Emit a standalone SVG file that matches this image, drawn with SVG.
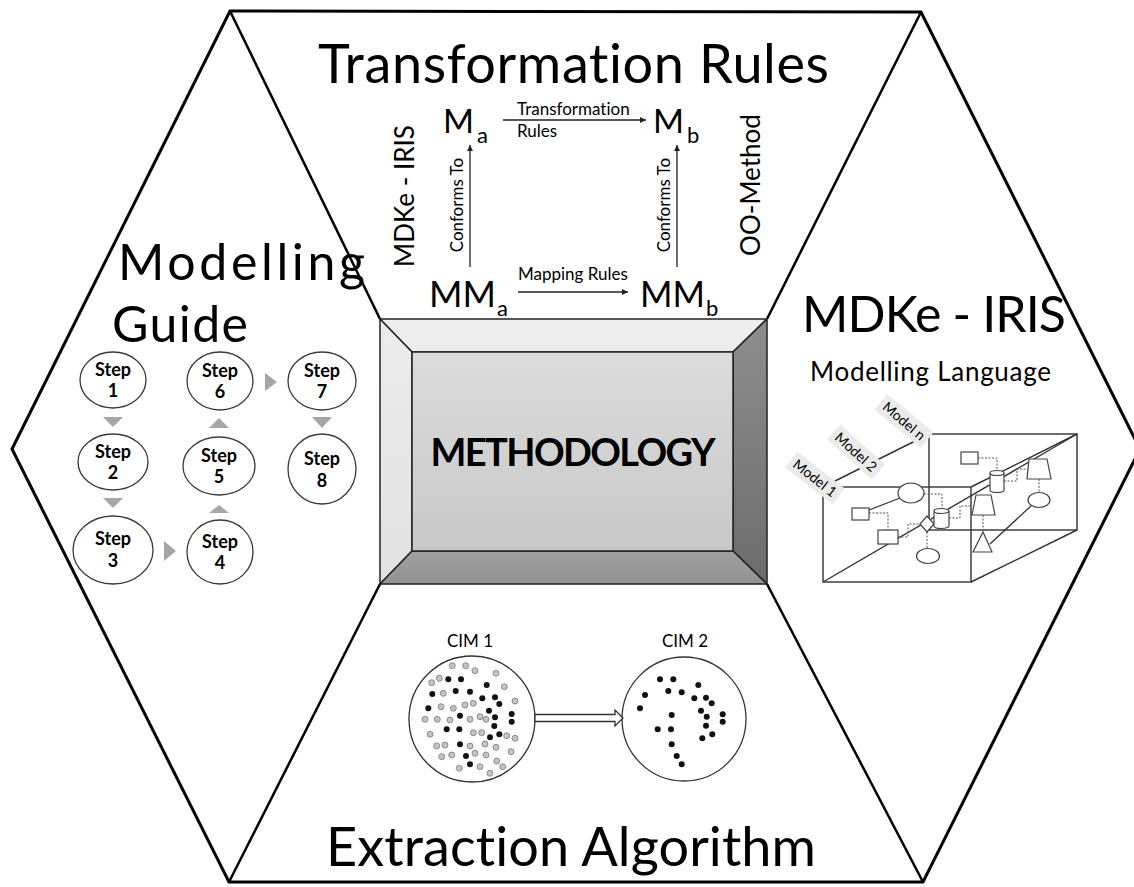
<svg xmlns="http://www.w3.org/2000/svg" width="1134" height="887" viewBox="0 0 1134 887">
<style>
  text { font-family: Lato, "Open Sans", "DejaVu Sans", sans-serif; fill: #000; font-variant-ligatures: none; font-feature-settings: "liga" 0, "clig" 0; }
  .frame { fill: none; stroke: #000; stroke-width: 3; stroke-linejoin: miter; }
  .sep { stroke: #000; stroke-width: 2.5; }
  .big { font-size: 54px; }
  .bevel { stroke: #222; stroke-width: 1.5; stroke-linejoin: round; }
  .step ellipse { fill: #fff; stroke: #3a3a3a; stroke-width: 1.3; }
  .step text { font-size: 18px; font-weight: bold; text-anchor: middle; }
  .tri { fill: #a6a6a6; }
  .arrow { stroke: #222; stroke-width: 1.3; fill: none; marker-end: url(#ah); }
  .lbl { font-size: 17px; }
  .box { fill: none; stroke: #333; stroke-width: 1.4; }
  .shape { fill: #fff; stroke: #444; stroke-width: 1.2; }
  .dash { fill: none; stroke: #555; stroke-width: 1; stroke-dasharray: 2 1.5; }
  .solid { fill: none; stroke: #333; stroke-width: 1.3; }
  .tag rect { fill: #ebebeb; }
  .tag text { font-size: 14px; text-anchor: middle; }
  .k { fill: #111; }
  .o { fill: #c4c4c4; stroke: #7a7a7a; stroke-width: 0.8; }
  .cim { fill: #fff; stroke: #333; stroke-width: 1.3; }
</style>
<defs>
  <marker id="ah" viewBox="0 0 10 10" refX="10" refY="5" markerUnits="userSpaceOnUse" markerWidth="7" markerHeight="6" orient="auto">
    <path d="M0,0 L10,5 L0,10 z" fill="#222"/>
  </marker>
  <linearGradient id="face" x1="0" y1="0" x2="0" y2="1">
    <stop offset="0" stop-color="#dcdcdc"/>
    <stop offset="1" stop-color="#c8c8c8"/>
  </linearGradient>
  <linearGradient id="rightBevel" x1="0" y1="0" x2="0" y2="1">
    <stop offset="0" stop-color="#8e8e8e"/>
    <stop offset="1" stop-color="#6c6c6c"/>
  </linearGradient>
  <linearGradient id="bottomBevel" x1="0" y1="0" x2="0" y2="1">
    <stop offset="0" stop-color="#a0a0a0"/>
    <stop offset="1" stop-color="#929292"/>
  </linearGradient>
  <linearGradient id="leftBevel" x1="0" y1="0" x2="0" y2="1">
    <stop offset="0" stop-color="#ececec"/>
    <stop offset="1" stop-color="#e2e2e2"/>
  </linearGradient>
</defs>

<rect width="1134" height="887" fill="#fff"/>

<!-- outer hexagon and the four separators running to the centre block -->
<g id="frame">
  <polygon class="frame" points="230,11 921,12 1140,449 923,882 229,882 12,449"/>
  <line class="sep" x1="230" y1="11" x2="380" y2="319"/>
  <line class="sep" x1="921" y1="12" x2="767" y2="319"/>
  <line class="sep" x1="229" y1="882" x2="380" y2="584"/>
  <line class="sep" x1="923" y1="882" x2="767" y2="584"/>
</g>

<!-- centre bevelled block -->
<g id="methodology">
  <polygon class="bevel" fill="#ededed" points="380,319 767,319 733,352 412,352"/>
  <polygon class="bevel" fill="url(#leftBevel)" points="380,319 412,352 412,551 380,584"/>
  <polygon class="bevel" fill="url(#rightBevel)" points="767,319 767,584 733,551 733,352"/>
  <polygon class="bevel" fill="url(#bottomBevel)" points="380,584 412,551 733,551 767,584"/>
  <rect class="bevel" x="412" y="352" width="321" height="199" fill="url(#face)"/>
  <text x="573" y="466" text-anchor="middle" font-size="38" font-weight="bold" textLength="285">METHODOLOGY</text>
</g>

<!-- top: transformation rules -->
<g id="transformation-rules">
  <text class="big" x="318" y="83" textLength="511">Transformation Rules</text>
  <text x="443" y="133" font-size="33" textLength="31" lengthAdjust="spacingAndGlyphs">M</text>
  <text x="477" y="143" font-size="22">a</text>
  <text x="653" y="133" font-size="33" textLength="31" lengthAdjust="spacingAndGlyphs">M</text>
  <text x="687" y="143" font-size="22">b</text>
  <text x="429" y="307" font-size="36" textLength="67" lengthAdjust="spacingAndGlyphs">MM</text>
  <text x="497" y="316" font-size="22">a</text>
  <text x="640" y="307" font-size="36" textLength="65" lengthAdjust="spacingAndGlyphs">MM</text>
  <text x="706" y="316" font-size="22">b</text>
  <text class="lbl" x="517" y="115">Transformation</text>
  <text class="lbl" x="517" y="137">Rules</text>
  <text class="lbl" x="518" y="280">Mapping Rules</text>
  <text class="lbl" x="463" y="205" text-anchor="middle" transform="rotate(-90 463 205)">Conforms To</text>
  <text class="lbl" x="670" y="205" text-anchor="middle" transform="rotate(-90 670 205)">Conforms To</text>
  <text x="414" y="196" font-size="26" text-anchor="middle" transform="rotate(-90 414 196)">MDKe - IRIS</text>
  <text x="760" y="185" font-size="26" text-anchor="middle" transform="rotate(-90 760 185)">OO-Method</text>
</g>
<g id="connectors">
  <line class="arrow" x1="503" y1="120" x2="646" y2="120"/>
  <line class="arrow" x1="518" y1="292" x2="628" y2="292"/>
  <line class="arrow" x1="470" y1="267" x2="470" y2="145"/>
  <line class="arrow" x1="677" y1="267" x2="677" y2="145"/>
</g>

<!-- left: modelling guide -->
<g id="modelling-guide">
  <text x="118" y="280" font-size="50" textLength="247">Modelling</text>
  <text x="112" y="342" font-size="50" textLength="136">Guide</text>
  <polygon class="tri" points="103,417 123,417 113,427"/>
  <polygon class="tri" points="103,498 123,498 113,508"/>
  <polygon class="tri" points="164,541 176,551 164,561"/>
  <polygon class="tri" points="209,513 229,513 219,505"/>
  <polygon class="tri" points="209,428 229,428 219,418"/>
  <polygon class="tri" points="265,373 277,382 265,391"/>
  <polygon class="tri" points="312,417 332,417 322,428"/>
</g>
<g id="step-1" class="step"><ellipse cx="113" cy="380" rx="33" ry="28"/><text x="113" y="376">Step</text><text x="113" y="397">1</text></g>
<g id="step-2" class="step"><ellipse cx="113" cy="462" rx="35" ry="28"/><text x="113" y="458">Step</text><text x="113" y="479">2</text></g>
<g id="step-3" class="step"><ellipse cx="113" cy="550" rx="40" ry="34"/><text x="113" y="545">Step</text><text x="113" y="567">3</text></g>
<g id="step-4" class="step"><ellipse cx="220" cy="552" rx="33" ry="32"/><text x="220" y="548">Step</text><text x="220" y="569">4</text></g>
<g id="step-5" class="step"><ellipse cx="219" cy="466" rx="36" ry="29"/><text x="219" y="462">Step</text><text x="219" y="483">5</text></g>
<g id="step-6" class="step"><ellipse cx="220" cy="381" rx="33" ry="29"/><text x="220" y="377">Step</text><text x="220" y="398">6</text></g>
<g id="step-7" class="step"><ellipse cx="322" cy="381" rx="34" ry="29"/><text x="322" y="377">Step</text><text x="322" y="398">7</text></g>
<g id="step-8" class="step"><ellipse cx="322" cy="469" rx="34" ry="35"/><text x="322" y="465">Step</text><text x="322" y="487">8</text></g>

<!-- right: modelling language -->
<g id="modelling-language">
  <text x="802" y="332" font-size="50" textLength="264">MDKe - IRIS</text>
  <text x="810" y="381" font-size="26" textLength="241">Modelling Language</text>

  <rect class="box" x="823" y="487" width="148" height="95"/>
  <rect class="box" x="929" y="434" width="148" height="96"/>
  <line class="box" x1="823" y1="487" x2="929" y2="434"/>
  <line class="box" x1="971" y1="487" x2="1077" y2="434"/>
  <line class="box" x1="971" y1="582" x2="1077" y2="530"/>
  <line class="box" x1="823" y1="582" x2="1077" y2="434"/>

  <path class="dash" d="M869,513 H888 V530"/>
  <path class="dash" d="M898,537 H908 V524 H920"/>
  <path class="dash" d="M924,494 H942 V508"/>
  <path class="dash" d="M949,518 H960 V506 H972"/>
  <path class="dash" d="M927,532 V549"/>
  <path class="dash" d="M978,458 H997 V470"/>
  <path class="dash" d="M1004,481 H1017 V469 H1028"/>
  <path class="dash" d="M983,515 V532"/>
  <path class="dash" d="M1039,479 V493"/>

  <path class="solid" d="M869,510 L900,498"/>
  <path class="solid" d="M990,544 L1032,505"/>

  <ellipse class="shape" cx="911" cy="493" rx="13" ry="10"/>
  <rect class="shape" x="852" y="508" width="17" height="12"/>
  <rect class="shape" x="878" y="530" width="20" height="14"/>
  <polygon class="shape" points="927,516 934,524 927,532 920,524"/>
  <path class="shape" d="M934,511 v15 a7.5,2.5 0 0 0 15,0 v-15 a7.5,2.5 0 0 0 -15,0 a7.5,2.5 0 0 0 15,0"/>
  <ellipse class="shape" cx="928" cy="556" rx="11.5" ry="7.5"/>
  <polygon class="shape" points="976,495 991,495 995,515 972,515"/>
  <polygon class="shape" points="983,532 992,552 973,552"/>
  <rect class="shape" x="961" y="452" width="17" height="12"/>
  <path class="shape" d="M990,473 v17 a7,2.5 0 0 0 14,0 v-17 a7,2.5 0 0 0 -14,0 a7,2.5 0 0 0 14,0"/>
  <polygon class="shape" points="1029,459 1047,459 1051,479 1027,479"/>
  <ellipse class="shape" cx="1039" cy="500" rx="11" ry="7.5"/>

  <g class="tag" transform="translate(815,478) rotate(38)"><rect x="-30" y="-10" width="60" height="20"/><text y="5">Model 1</text></g>
  <g class="tag" transform="translate(856,452) rotate(42)"><rect x="-30" y="-10" width="60" height="20"/><text y="5">Model 2</text></g>
  <g class="tag" transform="translate(904,421) rotate(40)"><rect x="-30" y="-10" width="60" height="20"/><text y="5">Model n</text></g>
</g>

<!-- bottom: extraction algorithm -->
<g id="extraction-algorithm">
  <text class="big" x="326" y="866" textLength="490">Extraction Algorithm</text>
  <text x="447" y="647" font-size="17">CIM 1</text>
  <text x="662" y="647" font-size="17">CIM 2</text>
  <circle class="cim" cx="472" cy="719" r="63"/>
  <circle class="cim" cx="684" cy="719" r="62"/>
  <polygon class="cim" points="535,714.5 615,714.5 615,710 623,718 615,726 615,721.5 535,721.5"/>
  <g id="cim1-dots">
    <circle class="o" cx="452.3" cy="665.7" r="3"/><circle class="o" cx="465.7" cy="665.7" r="3"/><circle class="o" cx="475" cy="670.7" r="3"/>
    <circle class="o" cx="496" cy="673.3" r="3"/><circle class="o" cx="431.7" cy="682.7" r="3"/><circle class="o" cx="439.3" cy="678.3" r="3"/>
    <circle class="o" cx="504.3" cy="686.7" r="3"/><circle class="o" cx="443.3" cy="693.3" r="3"/><circle class="o" cx="515" cy="701" r="3"/>
    <circle class="o" cx="473.3" cy="703.3" r="3"/><circle class="o" cx="465" cy="705" r="3"/><circle class="o" cx="441" cy="706.7" r="3"/>
    <circle class="o" cx="453.3" cy="708.3" r="3"/><circle class="o" cx="425" cy="719.3" r="3"/><circle class="o" cx="437.3" cy="719.3" r="3"/>
    <circle class="o" cx="450" cy="720" r="3"/><circle class="o" cx="470" cy="719.3" r="3"/><circle class="o" cx="480" cy="716.7" r="3"/>
    <circle class="o" cx="486" cy="719.3" r="3"/><circle class="o" cx="430" cy="734.3" r="3"/><circle class="o" cx="473.3" cy="732.7" r="3"/>
    <circle class="o" cx="481.7" cy="732.7" r="3"/><circle class="o" cx="506.7" cy="735.7" r="3"/><circle class="o" cx="515" cy="738.3" r="3"/>
    <circle class="o" cx="436.7" cy="746" r="3"/><circle class="o" cx="445" cy="745" r="3"/><circle class="o" cx="470" cy="746" r="3"/>
    <circle class="o" cx="485" cy="744" r="3"/><circle class="o" cx="496" cy="747.3" r="3"/><circle class="o" cx="441.7" cy="756.7" r="3"/>
    <circle class="o" cx="451.7" cy="755" r="3"/><circle class="o" cx="475" cy="753.3" r="3"/><circle class="o" cx="486" cy="755" r="3"/>
    <circle class="o" cx="511" cy="751.7" r="3"/><circle class="o" cx="459.3" cy="768.3" r="3"/><circle class="o" cx="480" cy="766.7" r="3"/>
    <circle class="o" cx="490" cy="773.3" r="3"/><circle class="o" cx="496.7" cy="761" r="3"/><circle class="o" cx="502.7" cy="766.7" r="3"/>
    <circle class="k" cx="448.3" cy="679.3" r="3"/><circle class="k" cx="461" cy="679.3" r="3"/><circle class="k" cx="486.7" cy="685" r="3"/>
    <circle class="k" cx="432.3" cy="694" r="3"/><circle class="k" cx="455.7" cy="691" r="3"/><circle class="k" cx="470" cy="691.7" r="3"/>
    <circle class="k" cx="482.3" cy="698.3" r="3"/><circle class="k" cx="495" cy="697.3" r="3"/><circle class="k" cx="499.3" cy="704" r="3"/>
    <circle class="k" cx="428.3" cy="708.3" r="3"/><circle class="k" cx="489" cy="710.7" r="3"/><circle class="k" cx="460" cy="715.7" r="3"/>
    <circle class="k" cx="495" cy="717.3" r="3"/><circle class="k" cx="511.7" cy="714" r="3"/><circle class="k" cx="511.7" cy="721.7" r="3"/>
    <circle class="k" cx="494.3" cy="726" r="3"/><circle class="k" cx="446.7" cy="729.3" r="3"/><circle class="k" cx="459.3" cy="729.3" r="3"/>
    <circle class="k" cx="490" cy="737.3" r="3"/><circle class="k" cx="499.3" cy="734.3" r="3"/><circle class="k" cx="460" cy="744.3" r="3"/>
    <circle class="k" cx="466" cy="756" r="3"/><circle class="k" cx="470" cy="764.3" r="3"/>
  </g>
  <g id="cim2-dots">
    <circle class="k" cx="660" cy="679.3" r="3"/><circle class="k" cx="673.3" cy="679.3" r="3"/><circle class="k" cx="698.3" cy="685" r="3"/>
    <circle class="k" cx="645" cy="695" r="3"/><circle class="k" cx="668.3" cy="691" r="3"/><circle class="k" cx="681.7" cy="692.3" r="3"/>
    <circle class="k" cx="694.3" cy="698.3" r="3"/><circle class="k" cx="706" cy="697.7" r="3"/><circle class="k" cx="640" cy="708.3" r="3"/>
    <circle class="k" cx="711.7" cy="703.3" r="3"/><circle class="k" cx="701" cy="710.7" r="3"/><circle class="k" cx="706.7" cy="716.7" r="3"/>
    <circle class="k" cx="722.7" cy="714.3" r="3"/><circle class="k" cx="722.7" cy="721.7" r="3"/><circle class="k" cx="671.7" cy="715" r="3"/>
    <circle class="k" cx="706" cy="725.7" r="3"/><circle class="k" cx="657.7" cy="729.3" r="3"/><circle class="k" cx="671" cy="729.3" r="3"/>
    <circle class="k" cx="712.3" cy="734.3" r="3"/><circle class="k" cx="702.3" cy="738.3" r="3"/><circle class="k" cx="671.7" cy="744.3" r="3"/>
    <circle class="k" cx="676.7" cy="756" r="3"/><circle class="k" cx="681.7" cy="764.3" r="3"/>
  </g>
</g>
</svg>
